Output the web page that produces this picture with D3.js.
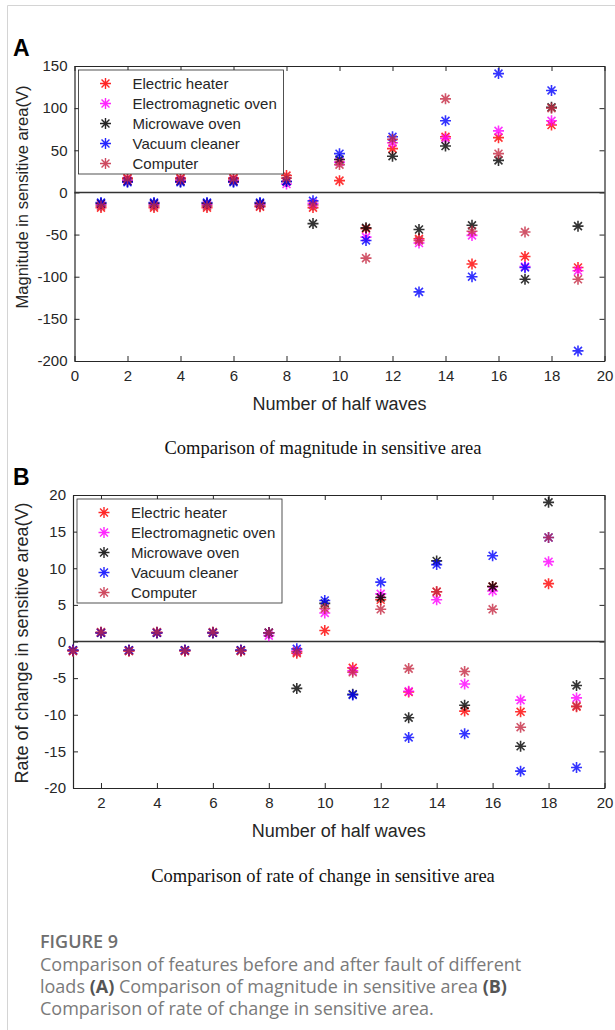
<!DOCTYPE html>
<html>
<head>
<meta charset="utf-8">
<script src="https://cdn.jsdelivr.net/npm/d3@7"></script>
<style>
  body { margin: 0; background: #fff; }
  svg { display: block; }
</style>
</head>
<body>
<div id="container"></div>
<script>
/* DATA */
const halfWaves = [1, 2, 3, 4, 5, 6, 7, 8, 9, 10, 11, 12, 13, 14, 15, 16, 17, 18, 19];
const loads = ["Electric heater", "Electromagnetic oven", "Microwave oven", "Vacuum cleaner", "Computer"];

// panel A: magnitude in sensitive area (V)
const heaterA = [-18, 17, -18, 17, -18, 17, -17, 20, -18, 14, -43, 52, -55, 66, -85, 65, -76, 80, -89];
const emOvenA = [-14, 14, -14, 14, -14, 14, -14, 10, -13, 36, -53, 59, -60, 64, -51, 73, -88, 85, -93];
const microA = [-13, 13, -13, 13, -13, 13, -13, 13, -37, 39, -42, 43, -44, 55, -39, 38, -103, 101, -40];
const vacuumA = [-12, 12, -12, 12, -12, 12, -12, 13, -10, 46, -57, 66, -118, 85, -100, 141, -89, 121, -188];
const computerA = [-16, 16, -16, 16, -16, 16, -16, 17, -15, 33, -78, 63, -57, 111, -46, 46, -47, 100, -103];

// panel B: rate of change in sensitive area (V)
const heaterB = [-1.3, 1.2, -1.3, 1.2, -1.3, 1.2, -1.3, 1.2, -1.6, 1.5, -3.6, 5.7, -6.9, 6.8, -9.5, 7.5, -9.6, 7.9, -8.9];
const emOvenB = [-1.2, 1.2, -1.2, 1.2, -1.2, 1.2, -1.2, 0.8, -1.3, 3.9, -4.0, 6.5, -6.8, 5.7, -5.8, 6.9, -8.0, 10.9, -7.7];
const microB = [-1.2, 1.2, -1.2, 1.2, -1.2, 1.2, -1.2, 1.2, -6.4, 5.2, -7.2, 6.0, -10.4, 11.0, -8.7, 7.5, -14.3, 19.0, -6.0];
const vacuumB = [-1.2, 1.2, -1.2, 1.2, -1.2, 1.2, -1.2, 1.2, -1.0, 5.6, -7.3, 8.1, -13.1, 10.5, -12.6, 11.7, -17.7, 14.2, -17.2];
const computerB = [-1.3, 1.3, -1.3, 1.3, -1.3, 1.3, -1.3, 1.2, -1.4, 4.5, -4.2, 4.4, -3.7, 6.8, -4.1, 4.4, -11.7, 14.2, -8.8];

const xTicksA = [0, 2, 4, 6, 8, 10, 12, 14, 16, 18, 20];
const yTicksA = [-200, -150, -100, -50, 0, 50, 100, 150];
const xTicksB = [2, 4, 6, 8, 10, 12, 14, 16, 18, 20];
const yTicksB = [-20, -15, -10, -5, 0, 5, 10, 15, 20];

const colors = ["#ff0000", "#ff00ff", "#000000", "#0000ff", "#c62a44"];

/* CONSTANTS */
const width = 615, height = 1030;
const axisColor = "#262626";
const sansFont = "'Liberation Sans', Arial, sans-serif";

const svg = d3.select("#container")
  .append("svg")
  .attr("width", width)
  .attr("height", height);

svg.append("rect")
  .attr("width", width).attr("height", height)
  .attr("fill", "#fff");

// light frame round the figure
svg.append("path")
  .attr("d", `M7.5,${height} V5.5 H${width}`)
  .attr("fill", "none")
  .attr("stroke", "#d4d4d4")
  .attr("stroke-width", 1);

// asterisk marker, like matlab '*'
const r = 5.5, d = r * 0.72;
const starPath = `M${-r},0L${r},0M0,${-r}L0,${r}M${-d},${-d}L${d},${d}M${-d},${d}L${d},${-d}`;

// plain hyphen for negatives, like the original
const tickFmt = v => String(v);

function drawPanel(cfg) {
  const x = d3.scaleLinear().domain(cfg.xDomain).range([cfg.left, cfg.right]);
  const y = d3.scaleLinear().domain(cfg.yDomain).range([cfg.bottom, cfg.top]);

  const g = svg.append("g");

  // panel letter
  g.append("text")
    .attr("x", 13).attr("y", cfg.top - 10)
    .style("font-family", sansFont)
    .style("font-weight", "bold")
    .style("font-size", "23px")
    .text(cfg.letter);

  // axes with inward ticks on all four sides
  const styleAxis = sel => {
    sel.selectAll("path.domain").attr("stroke", axisColor).attr("stroke-width", 1.2);
    sel.selectAll(".tick line").attr("stroke", axisColor).attr("stroke-width", 1);
    sel.selectAll("text")
      .attr("fill", axisColor)
      .style("font-family", sansFont)
      .style("font-size", "15px");
  };

  g.append("g")
    .attr("transform", `translate(0,${cfg.bottom})`)
    .call(d3.axisBottom(x).tickValues(cfg.xTicks).tickFormat(tickFmt)
      .tickSizeInner(-5).tickSizeOuter(0).tickPadding(9))
    .call(styleAxis);

  g.append("g")
    .attr("transform", `translate(0,${cfg.top})`)
    .call(d3.axisTop(x).tickValues(cfg.xTicks).tickFormat("")
      .tickSizeInner(-5).tickSizeOuter(0))
    .call(styleAxis);

  g.append("g")
    .attr("transform", `translate(${cfg.left},0)`)
    .call(d3.axisLeft(y).tickValues(cfg.yTicks).tickFormat(tickFmt)
      .tickSizeInner(-5).tickSizeOuter(0).tickPadding(7))
    .call(styleAxis);

  g.append("g")
    .attr("transform", `translate(${cfg.right},0)`)
    .call(d3.axisRight(y).tickValues(cfg.yTicks).tickFormat("")
      .tickSizeInner(-5).tickSizeOuter(0))
    .call(styleAxis);

  // zero line
  g.append("line")
    .attr("x1", cfg.left).attr("x2", cfg.right)
    .attr("y1", y(0)).attr("y2", y(0))
    .attr("stroke", "#333")
    .attr("stroke-width", 1.6);

  // axis titles
  g.append("text")
    .attr("x", (cfg.left + cfg.right) / 2)
    .attr("y", cfg.bottom + 49)
    .attr("text-anchor", "middle")
    .attr("fill", axisColor)
    .style("font-family", sansFont)
    .style("font-size", "18px")
    .text("Number of half waves");

  g.append("text")
    .attr("transform", `translate(28,${cfg.yLabelY}) rotate(-90)`)
    .attr("text-anchor", "middle")
    .attr("fill", axisColor)
    .style("font-family", sansFont)
    .style("font-size", cfg.yLabelSize)
    .text(cfg.yLabel);

  // points
  cfg.series.forEach((vals, i) => {
    g.selectAll(null)
      .data(vals.map((v, k) => ({ x: halfWaves[k], y: v })))
      .join("path")
      .attr("d", starPath)
      .attr("transform", p => `translate(${x(p.x)},${y(p.y)})`)
      .attr("fill", "none")
      .attr("stroke", colors[i])
      .attr("stroke-width", 1.6)
      .attr("stroke-opacity", 0.8);
  });

  // legend
  const lx = cfg.left + 4, ly = cfg.top + 4;
  g.append("rect")
    .attr("x", lx).attr("y", ly)
    .attr("width", 205).attr("height", 104)
    .attr("fill", "#fff")
    .attr("stroke", axisColor)
    .attr("stroke-width", 0.8);

  const items = g.selectAll("g.legend-item")
    .data(loads)
    .join("g")
    .attr("class", "legend-item")
    .attr("transform", (t, i) => `translate(${lx}, ${ly + 13.5 + i * 20})`);

  items.append("path")
    .attr("d", starPath)
    .attr("transform", "translate(27,0)")
    .attr("fill", "none")
    .attr("stroke", (t, i) => colors[i])
    .attr("stroke-width", 1.4)
    .attr("stroke-opacity", 0.85);

  items.append("text")
    .attr("x", 54).attr("y", 5.5)
    .attr("fill", axisColor)
    .style("font-family", sansFont)
    .style("font-size", "15px")
    .text(t => t);

  // caption under the panel
  svg.append("text")
    .attr("x", 323).attr("y", cfg.captionY)
    .attr("text-anchor", "middle")
    .attr("fill", "#111")
    .style("font-family", "'Liberation Serif', 'Times New Roman', serif")
    .style("font-size", "18.5px")
    .text(cfg.caption);
}

drawPanel({
  letter: "A",
  xDomain: [0, 20], yDomain: [-200, 150],
  left: 74.5, right: 604.5, top: 66, bottom: 361,
  xTicks: xTicksA, yTicks: yTicksA,
  yLabel: "Magnitude in sensitive area(V)", yLabelY: 197, yLabelSize: "16.5px",
  series: [heaterA, emOvenA, microA, vacuumA, computerA],
  caption: "Comparison of magnitude in sensitive area", captionY: 454
});

drawPanel({
  letter: "B",
  xDomain: [1, 20], yDomain: [-20, 20],
  left: 73, right: 604.5, top: 495, bottom: 788,
  xTicks: xTicksB, yTicks: yTicksB,
  yLabel: "Rate of change in sensitive area(V)", yLabelY: 643, yLabelSize: "18px",
  series: [heaterB, emOvenB, microB, vacuumB, computerB],
  caption: "Comparison of rate of change in sensitive area", captionY: 882
});

// figure caption
const capFont = "'Open Sans', 'Noto Sans', sans-serif";
const capColor = "#7a7a7a";

svg.append("text")
  .attr("x", 40).attr("y", 948)
  .attr("fill", "#6e6e6e")
  .style("font-family", capFont)
  .style("font-weight", 600)
  .style("font-size", "18px")
  .text("FIGURE 9");

const capLines = [
  [{ t: "Comparison of features before and after fault of different", b: false }],
  [{ t: "loads ", b: false }, { t: "(A)", b: true }, { t: " Comparison of magnitude in sensitive area ", b: false }, { t: "(B)", b: true }],
  [{ t: "Comparison of rate of change in sensitive area.", b: false }]
];

capLines.forEach((line, i) => {
  const txt = svg.append("text")
    .attr("x", 40).attr("y", 971 + i * 22)
    .attr("fill", capColor)
    .style("font-family", capFont)
    .style("font-size", "18px");
  line.forEach(s => {
    txt.append("tspan")
      .style("font-weight", s.b ? 700 : 400)
      .attr("fill", s.b ? "#555" : capColor)
      .text(s.t);
  });
});
</script>
</body>
</html>
